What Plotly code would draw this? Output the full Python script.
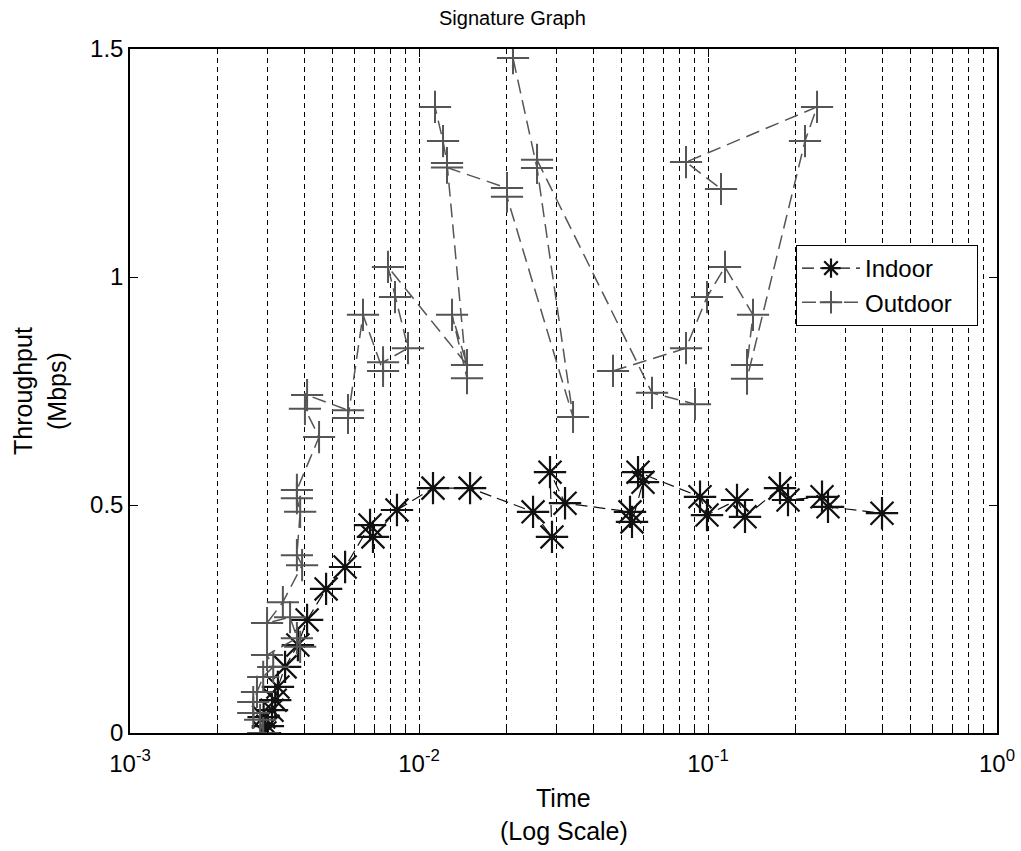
import plotly.graph_objects as go

# ---------------- data ----------------
indoor_time = [0.00293, 0.00300, 0.00290, 0.00310, 0.00318, 0.00325, 0.00344, 0.00381,
               0.00410, 0.00477, 0.00555, 0.00677, 0.00693, 0.00839, 0.01118, 0.01502,
               0.02481, 0.02885, 0.02840, 0.03201, 0.05372, 0.05458, 0.05958, 0.05726,
               0.09383, 0.09920, 0.12600, 0.13428, 0.17747, 0.18917, 0.24805, 0.26013,
               0.40000]
indoor_tput = [0.000, 0.015, 0.035, 0.050, 0.072, 0.101, 0.145, 0.193,
               0.248, 0.316, 0.364, 0.456, 0.430, 0.489, 0.537, 0.537,
               0.485, 0.430, 0.572, 0.504, 0.485, 0.463, 0.550, 0.572,
               0.518, 0.478, 0.511, 0.474, 0.537, 0.511, 0.518, 0.496,
               0.482]

# Outdoor runs (None separates runs)
outdoor_time = [0.00289, 0.00282, 0.00267, 0.00267, 0.00275, 0.00289, 0.00313, 0.00298,
                0.00378, 0.00388, 0.00358, 0.00298, 0.00338, 0.00394, 0.00378, 0.00388,
                0.00378, 0.00378, 0.00451, 0.00403, 0.00410, 0.00568, 0.00568, 0.00640,
                0.00751, 0.00751, 0.00916, 0.00826, 0.00781, 0.01466, 0.01301, 0.01466,
                0.01250, 0.01211, 0.01136,
                None,
                0.01250, 0.02016, 0.02016, 0.03412, 0.02561, 0.02115,
                None,
                0.02561, 0.06401, 0.09016,
                None,
                0.04691, 0.08393, 0.09920, 0.11451, 0.14313, 0.13646, 0.13646, 0.21659,
                0.23838, 0.08393, 0.11092]
outdoor_tput = [0.000, 0.029, 0.044, 0.068, 0.090, 0.123, 0.145, 0.171,
                0.208, 0.189, 0.254, 0.241, 0.287, 0.368, 0.390, 0.485,
                0.515, 0.533, 0.649, 0.711, 0.741, 0.708, 0.691, 0.917,
                0.794, 0.813, 0.844, 0.956, 1.022, 0.807, 0.917, 0.778,
                1.250, 1.298, 1.373,
                None,
                1.240, 1.195, 1.176, 0.693, 1.239, 1.480,
                None,
                1.257, 0.746, 0.721,
                None,
                0.794, 0.844, 0.956, 1.022, 0.917, 0.807, 0.777, 1.298,
                1.373, 1.252, 1.193]

decade_ticks = [0.001, 0.01, 0.1, 1.0]
decade_labels = ["10<sup>-3</sup>", "10<sup>-2</sup>", "10<sup>-1</sup>", "10<sup>0</sup>"]
minor_ticks = [m * d for d in [0.001, 0.01, 0.1] for m in range(2, 10)]
y_ticks = [0, 0.5, 1, 1.5]
y_labels = ["0", "0.5", "1", "1.5"]

FONT = "Liberation Sans"
TICK_FS = 24
LABEL_FS = 25
LEG_FS = 24
TITLE_FS = 20
PAD = "\u00a0\u00a0\u00a0"   # widens the legend box to the reference's width

fig = go.Figure()
fig.add_trace(go.Scatter(
    x=indoor_time, y=indoor_tput, name="Indoor", mode="lines+markers",
    line=dict(color="#111111", width=1.2, dash="12px,6px"),
    marker=dict(symbol="asterisk-open", size=27, color="#111111",
                line=dict(width=2.2, color="#111111")),
))
fig.add_trace(go.Scatter(
    x=outdoor_time, y=outdoor_tput, name="Outdoor" + PAD, mode="lines+markers",
    line=dict(color="#555555", width=1.5, dash="14px,7px"),
    marker=dict(symbol="cross-thin-open", size=23, color="#555555",
                line=dict(width=2, color="#555555")),
    connectgaps=False,
))

fig.update_layout(
    width=1021, height=851,
    margin=dict(l=130, r=24, t=49, b=118),
    paper_bgcolor="white", plot_bgcolor="white",
    font=dict(family=FONT, size=TICK_FS, color="black"),
    showlegend=True,
    legend=dict(x=(796 - 130) / 867, y=(733 - 245) / 684, xanchor="left", yanchor="top",
                bordercolor="black", borderwidth=1, bgcolor="white",
                font=dict(family=FONT, size=LEG_FS), itemwidth=58,
                tracegroupgap=0),
)
fig.update_xaxes(
    type="log", range=[-3, 0], automargin=False,
    tickvals=decade_ticks, ticktext=decade_labels,
    ticks="inside", ticklen=8, tickcolor="black", tickwidth=1,
    showline=True, linecolor="black", linewidth=1.5, mirror="ticks",
    showgrid=True, gridcolor="black", gridwidth=1.4, griddash="5px,4px",
    minor=dict(tickvals=minor_ticks, ticks="inside", ticklen=4, tickcolor="black",
               showgrid=True, gridcolor="black", gridwidth=1.4, griddash="5px,4px"),
    zeroline=False, tickfont=dict(family=FONT, size=TICK_FS),
    ticklabelstandoff=8, ticklabeloverflow="allow",
)
fig.update_yaxes(
    range=[0, 1.5], tickvals=y_ticks, ticktext=y_labels, automargin=False,
    ticks="inside", ticklen=8, tickcolor="black",
    showline=True, linecolor="black", linewidth=1.5, mirror="ticks",
    showgrid=False, zeroline=False, tickfont=dict(family=FONT, size=TICK_FS),
)

def ann(fs):
    return dict(showarrow=False, font=dict(family=FONT, size=fs, color="black"))

fig.add_annotation(text="Signature Graph", xref="paper", yref="paper",
                   x=(512 - 130) / 867, y=1,
                   xanchor="center", yanchor="middle", yshift=31, **ann(TITLE_FS))
fig.add_annotation(text="Time", xref="paper", yref="paper", x=0.5, y=0,
                   xanchor="center", yanchor="middle", yshift=-65, **ann(LABEL_FS))
fig.add_annotation(text="(Log Scale)", xref="paper", yref="paper", x=0.5, y=0,
                   xanchor="center", yanchor="middle", yshift=-98, **ann(LABEL_FS))
fig.add_annotation(text="Throughput", xref="paper", yref="paper", x=0, y=0.5,
                   xanchor="center", yanchor="middle", xshift=-107, textangle=-90,
                   **ann(LABEL_FS))
fig.add_annotation(text="(Mbps)", xref="paper", yref="paper", x=0, y=0.5,
                   xanchor="center", yanchor="middle", xshift=-73, textangle=-90,
                   **ann(LABEL_FS))

# remove the default 8px page margin so the 1021x851 figure fills the window exactly
fig.write_html("out.html",
               config={"displayModeBar": False},
               post_script="document.body.style.margin='0';"
                           "document.body.style.overflow='hidden';")
